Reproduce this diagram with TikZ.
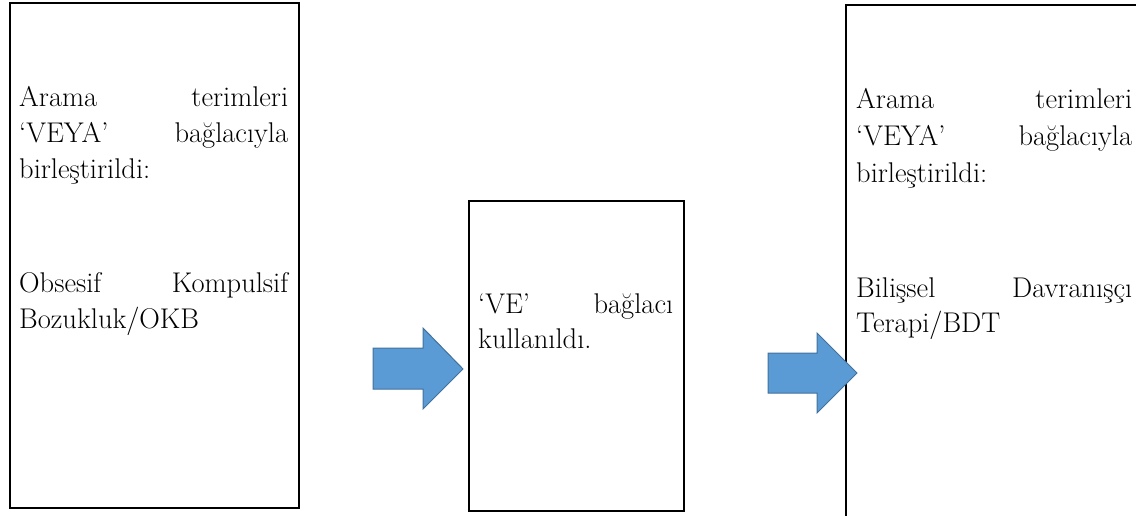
\documentclass[tikz,border=0pt]{standalone}
\usetikzlibrary{positioning}
\definecolor{arrowfill}{HTML}{5B9BD5}
\definecolor{arrowdraw}{HTML}{41719C}
\tikzset{
  boxframe/.style={draw=black, line width=1.5pt, fill=none, inner sep=0pt, anchor=north west},
  txtline/.style={inner sep=0pt, anchor=base west, font=\fontsize{28.5}{36}\selectfont},
  blockarrow/.style={fill=arrowfill, draw=arrowdraw, line width=1pt, line join=miter}
}
\begin{document}
\begin{tikzpicture}[x=1pt,y=-1pt]
\useasboundingbox (0,0) rectangle (1136,515);
\clip (0,0) rectangle (1136,515);
% boxes
\node[boxframe, minimum width=289pt, minimum height=505pt] (b1) at (9,2) {};
\node[boxframe, minimum width=215pt, minimum height=310pt] (b2) at (468,200) {};
\node[boxframe, minimum width=320pt, minimum height=540pt] (b3) at (845,4) {};
% box 1 text
\node[txtline] (a1) at (19,106) {\hbox to 269pt{Arama\hfill terimleri}};
\node[txtline] (a2) at (19,142) {\hbox to 269pt{‘VEYA’\hfill bağlacıyla}};
\node[txtline] (a3) at (19,178) {birleştirildi:};
\node[txtline] (a4) at (19,292) {\hbox to 269pt{Obsesif\hfill Kompulsif}};
\node[txtline] (a5) at (19,328) {Bozukluk/OKB};
% box 2 text
\node[txtline] (m1) at (478,313) {\hbox to 195pt{‘VE’\hfill bağlacı}};
\node[txtline] (m2) at (478,348) {kullanıldı.};
% box 3 text
\node[txtline] (c1) at (856,108) {\hbox to 276pt{Arama\hfill terimleri}};
\node[txtline] (c2) at (856,145) {\hbox to 276pt{‘VEYA’\hfill bağlacıyla}};
\node[txtline] (c3) at (856,182) {birleştirildi:};
\node[txtline] (c4) at (856,297) {\hbox to 276pt{Bilişsel\hfill Davranışçı}};
\node[txtline] (c5) at (856,332) {Terapi/BDT};
% block arrows
\draw[blockarrow] (373,348) -- (423,348) -- (423,328) -- (463,369) -- (423,409) -- (423,389) -- (373,389) -- cycle;
\draw[blockarrow] (768,353) -- (817,353) -- (817,333) -- (857,373) -- (817,413) -- (817,393) -- (768,393) -- cycle;
\end{tikzpicture}
\end{document}
